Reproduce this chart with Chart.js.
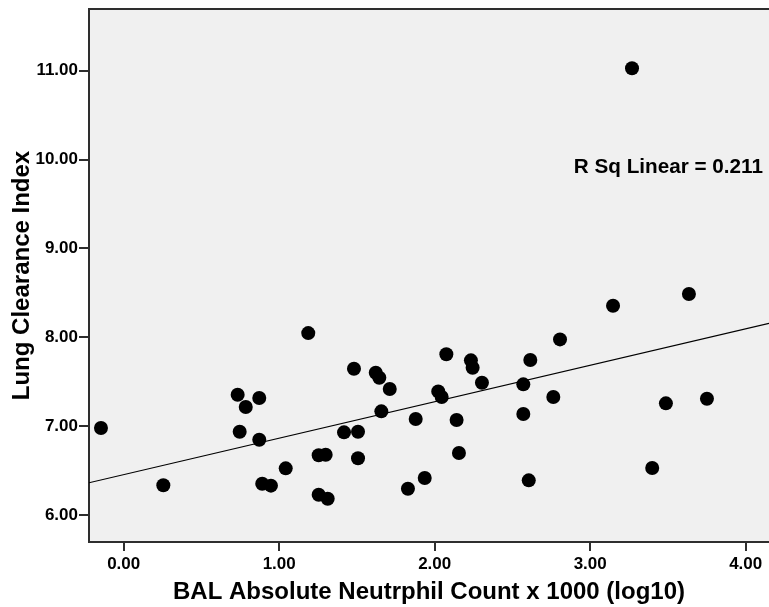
<!DOCTYPE html>
<html>
<head>
<meta charset="utf-8">
<script src="https://cdn.jsdelivr.net/npm/chart.js@4/dist/chart.umd.min.js"></script>
<style>
  html, body { margin: 0; padding: 0; background: #ffffff; }
  #wrap { width: 769px; height: 607px; }
</style>
</head>
<body>
<div id="wrap"><canvas id="c" width="769" height="607"></canvas></div>
<script>
// ---- data ----
const neutrophilLog = [-0.146, 0.255, 0.733, 0.785, 0.872, 0.746, 0.872, 0.891, 0.947, 1.042,
  1.187, 1.254, 1.299, 1.254, 1.312, 1.481, 1.417, 1.507, 1.507, 1.621,
  1.644, 1.711, 1.657, 1.878, 1.828, 1.936, 2.075, 2.023, 2.045, 2.141,
  2.156, 2.233, 2.244, 2.304, 2.570, 2.570, 2.615, 2.605, 2.763, 2.806,
  3.147, 3.269, 3.635, 3.487, 3.399, 3.751];
const lci = [6.979, 6.334, 7.353, 7.215, 7.316, 6.937, 6.847, 6.352, 6.330, 6.525,
  8.047, 6.672, 6.678, 6.228, 6.183, 7.646, 6.930, 6.937, 6.638, 7.601,
  7.544, 7.417, 7.166, 7.080, 6.296, 6.416, 7.808, 7.391, 7.327, 7.069,
  6.697, 7.740, 7.657, 7.488, 7.470, 7.136, 7.744, 6.390, 7.327, 7.976,
  8.354, 11.028, 8.486, 7.256, 6.529, 7.308];
const xTicks = [0, 1, 2, 3, 4];
const yTicks = [6, 7, 8, 9, 10, 11];
const xRange = [-0.223, 4.15];
const yRange = [5.696, 11.694];
const fitIntercept = 6.454;
const fitSlope = 0.410;
const rSqLabel = 'R Sq Linear = 0.211';
const rSqAnchor = [4.111, 9.915];
const xTitle = 'BAL Absolute Neutrphil Count x 1000 (log10)';
const yTitle = 'Lung Clearance Index';

const points = neutrophilLog.map((x, i) => ({ x: x, y: lci[i] }));
const fitLine = xRange.map(x => ({ x: x, y: fitIntercept + fitSlope * x }));

const FONT = "'Liberation Sans', Arial, Helvetica, sans-serif";
const AXIS_COLOR = '#2e2e2e';

const bgPlugin = {
  id: 'plotBg',
  beforeDraw(chart) {
    const { ctx, chartArea: a } = chart;
    ctx.save();
    ctx.fillStyle = '#f0f0f0';
    ctx.fillRect(a.left, a.top, a.right - a.left, a.bottom - a.top);
    ctx.restore();
  },
  afterDraw(chart) {
    const { ctx, chartArea: a } = chart;
    ctx.save();
    ctx.strokeStyle = AXIS_COLOR;
    ctx.lineWidth = 2;
    ctx.beginPath();
    ctx.moveTo(a.left, a.top);
    ctx.lineTo(a.right, a.top);
    ctx.stroke();
    ctx.restore();
  }
};

const rsqPlugin = {
  id: 'rsq',
  afterDatasetsDraw(chart) {
    const { ctx, scales } = chart;
    const px = scales.x.getPixelForValue(rSqAnchor[0]);
    const py = scales.y.getPixelForValue(rSqAnchor[1]);
    ctx.save();
    ctx.font = 'bold 20.7px ' + FONT;
    ctx.fillStyle = '#000';
    ctx.textAlign = 'right';
    ctx.textBaseline = 'middle';
    ctx.fillText(rSqLabel, px, py);
    ctx.restore();
  }
};

new Chart(document.getElementById('c'), {
  type: 'scatter',
  data: {
    datasets: [
      {
        type: 'line',
        data: fitLine,
        borderColor: '#000',
        borderWidth: 1.2,
        pointRadius: 0,
        fill: false,
        order: 2
      },
      {
        data: points,
        backgroundColor: '#000',
        borderColor: '#000',
        borderWidth: 0,
        pointRadius: 7,
        pointHoverRadius: 7,
        order: 1
      }
    ]
  },
  options: {
    responsive: false,
    animation: false,
    events: [],
    layout: { autoPadding: false, padding: { top: 9, right: 0, left: 0, bottom: 0 } },
    plugins: { legend: { display: false }, tooltip: { enabled: false } },
    scales: {
      x: {
        type: 'linear',
        min: xRange[0],
        max: xRange[1],
        afterBuildTicks(scale) { scale.ticks = xTicks.map(v => ({ value: v })); },
        afterFit(scale) { scale.height = 65; scale.paddingLeft = 0; scale.paddingRight = 0; },
        ticks: {
          color: '#000',
          font: { family: FONT, size: 17, weight: 'bold' },
          padding: 3,
          callback: v => Number(v).toFixed(2)
        },
        grid: { drawOnChartArea: false, drawTicks: true, tickLength: 9, tickColor: AXIS_COLOR, lineWidth: 2 },
        border: { display: true, color: AXIS_COLOR, width: 2 },
        title: {
          display: true, text: xTitle, color: '#000',
          font: { family: FONT, size: 24, weight: 'bold' },
          padding: { top: 0, bottom: 0 }
        }
      },
      y: {
        type: 'linear',
        min: yRange[0],
        max: yRange[1],
        afterBuildTicks(scale) { scale.ticks = yTicks.map(v => ({ value: v })); },
        afterFit(scale) { scale.width = 89; scale.paddingTop = 0; scale.paddingBottom = 0; },
        ticks: {
          color: '#000',
          font: { family: FONT, size: 17, weight: 'bold' },
          padding: 1,
          callback: v => Number(v).toFixed(2)
        },
        grid: { drawOnChartArea: false, drawTicks: true, tickLength: 10, tickColor: AXIS_COLOR, lineWidth: 2 },
        border: { display: true, color: AXIS_COLOR, width: 2 },
        title: {
          display: true, text: yTitle, color: '#000',
          font: { family: FONT, size: 24, weight: 'bold' },
          padding: { top: 8, bottom: 0 }
        }
      }
    }
  },
  plugins: [bgPlugin, rsqPlugin]
});
</script>
</body>
</html>
